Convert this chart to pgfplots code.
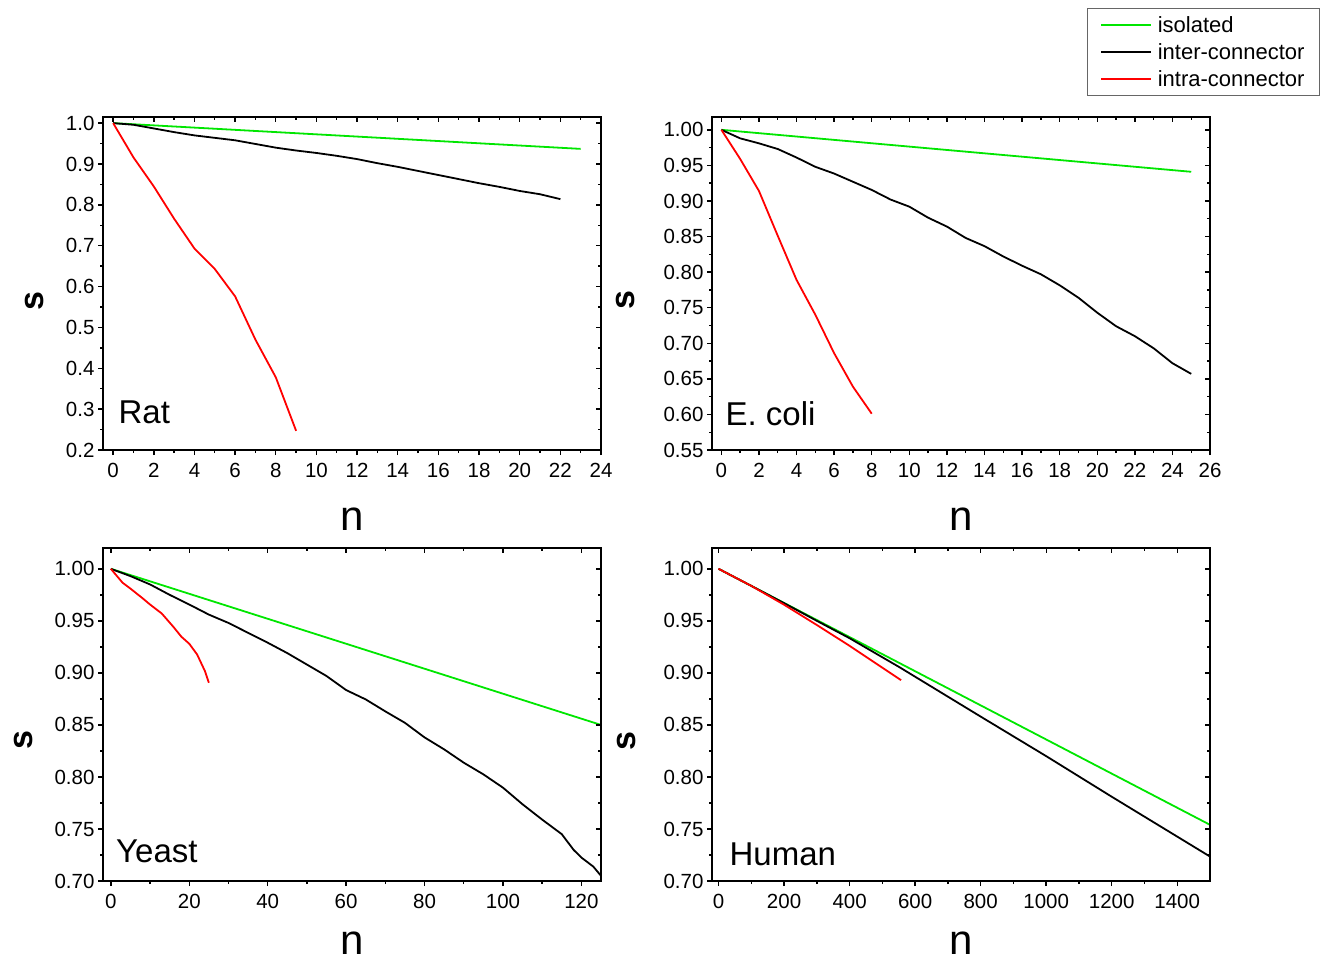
\documentclass[border=0pt]{standalone}
\usepackage{pgfplots}
\pgfplotsset{compat=1.18}
\usepackage{fontspec}
\setmainfont{Liberation Sans}
\definecolor{lgreen}{RGB}{0,230,0}
\definecolor{lred}{RGB}{255,0,0}
\tikzset{panel/.style={font=\fontsize{33}{33}\selectfont, anchor=base west, inner sep=0pt}}
\pgfplotsset{
 base/.style={scale only axis, width=498pt, height=333pt,
   axis line style={line width=1.6pt},
   major tick length=5pt, minor tick length=3pt,
   every tick/.style={line width=1.4pt, black},
   minor x tick num=1, minor y tick num=1,
   ticklabel style={font=\fontsize{20.5}{20.5}\selectfont},
   xticklabel style={yshift=-5pt},
   /pgf/number format/assume math mode=true,
   /pgf/number format/1000 sep={},
   anchor=south west},
 main/.style={base, xtick pos=lower, ytick pos=lower, tick align=outside,
   xlabel={n}, ylabel={s},
   xlabel style={font=\fontsize{42}{42}\selectfont, anchor=center},
   ylabel style={font=\fontsize{34}{34}\selectfont\bfseries, anchor=center},
   every axis plot/.append style={line width=1.8pt, line join=round}},
 over/.style={base, xtick pos=upper, ytick pos=upper, tick align=inside,
   xticklabels={}, yticklabels={}},
 yfmt2/.style={yticklabel style={/pgf/number format/.cd, fixed, fixed zerofill, precision=2}},
 yfmt1/.style={yticklabel style={/pgf/number format/.cd, fixed, fixed zerofill, precision=1}},
 ratax/.style={xmin=-0.5, xmax=24, ymin=0.2, ymax=1.015,
   xtick={0,2,4,6,8,10,12,14,16,18,20,22,24},
   ytick={0.2,0.3,0.4,0.5,0.6,0.7,0.8,0.9,1.0}, yfmt1},
 ecolax/.style={xmin=-0.5, xmax=26, ymin=0.55, ymax=1.018,
   xtick={0,2,4,6,8,10,12,14,16,18,20,22,24,26},
   ytick={0.55,0.60,0.65,0.70,0.75,0.80,0.85,0.90,0.95,1.00}, yfmt2},
 yeastax/.style={xmin=-2, xmax=125, ymin=0.70, ymax=1.02,
   xtick={0,20,40,60,80,100,120},
   ytick={0.70,0.75,0.80,0.85,0.90,0.95,1.00}, yfmt2},
 humanax/.style={xmin=-20, xmax=1500, ymin=0.70, ymax=1.02,
   xtick={0,200,400,600,800,1000,1200,1400},
   ytick={0.70,0.75,0.80,0.85,0.90,0.95,1.00}, yfmt2},
}
\begin{document}
\begin{tikzpicture}
\useasboundingbox (0pt,0pt) rectangle (1321pt,-961pt);
% ---------------- Rat ----------------
\begin{axis}[main, ratax, at={(103pt,-450pt)},
  xlabel style={at={(axis description cs:0.5,-0.207)}},
  ylabel style={at={(axis description cs:-0.138,0.447)}}]
\addplot[lgreen] coordinates {(0,1.0) (5,0.9863) (10,0.9726) (15,0.9589) (20,0.9452) (23,0.937)};
\addplot[black] coordinates {(0,1.0) (1,0.996) (2,0.987) (3,0.978) (4,0.970) (5,0.964) (6,0.958) (7,0.949) (8,0.940) (9,0.933) (10,0.927) (11,0.920) (12,0.912) (13,0.902) (14,0.893) (15,0.883) (16,0.873) (17,0.863) (18,0.853) (19,0.844) (20,0.834) (21,0.826) (22,0.814)};
\addplot[lred] coordinates {(0,1.0) (1,0.916) (2,0.845) (3,0.766) (4,0.693) (5,0.643) (6,0.576) (7,0.470) (8,0.378) (9,0.247)};
\node[panel] at (axis description cs:0.031,0.081) {Rat};
\end{axis}
\begin{axis}[over, ratax, at={(103pt,-450pt)}]
\end{axis}
% ---------------- E. coli ----------------
\begin{axis}[main, ecolax, at={(712pt,-450pt)},
  xlabel style={at={(axis description cs:0.5,-0.207)}},
  ylabel style={at={(axis description cs:-0.173,0.45)}},
  legend style={at={(axis description cs:1.2209,1.3273)}, anchor=north east,
    draw=black!60, line width=1pt, font=\fontsize{22}{22}\selectfont,
    inner xsep=13pt, inner ysep=4pt, row sep=2pt, column sep=4pt,
    nodes={inner sep=2pt, text height=18pt, text depth=3pt}},
  legend cell align=left,
  legend image code/.code={\draw[#1, line width=1.4pt] (0pt,0pt) -- (50pt,0pt);}]
\addplot[lgreen] coordinates {(0,1.0) (5,0.9882) (10,0.9764) (15,0.9646) (20,0.9528) (25,0.941)};
\addplot[black] coordinates {(0,1.0) (1,0.988) (2,0.981) (3,0.973) (4,0.961) (5,0.948) (6,0.9385) (7,0.927) (8,0.9155) (9,0.902) (10,0.892) (11,0.8765) (12,0.864) (13,0.848) (14,0.8365) (15,0.822) (16,0.809) (17,0.797) (18,0.7815) (19,0.764) (20,0.743) (21,0.724) (22,0.710) (23,0.693) (24,0.672) (25,0.657)};
\addplot[lred] coordinates {(0,1.0) (1,0.959) (2,0.914) (3,0.851) (4,0.789) (5,0.740) (6,0.686) (7,0.639) (8,0.601)};
\legend{isolated, inter-connector, intra-connector}
\node[panel] at (axis description cs:0.027,0.075) {E. coli};
\end{axis}
\begin{axis}[over, ecolax, at={(712pt,-450pt)}]
\end{axis}
% ---------------- Yeast ----------------
\begin{axis}[main, yeastax, at={(103pt,-881pt)},
  xlabel style={at={(axis description cs:0.5,-0.186)}},
  ylabel style={at={(axis description cs:-0.16,0.423)}}]
\addplot[lgreen] coordinates {(0,1.0) (25,0.97) (50,0.94) (75,0.91) (100,0.88) (125,0.85)};
\addplot[black] coordinates {(0,1.0) (5,0.993) (10,0.985) (15,0.975) (20,0.9657) (25,0.956) (30,0.948) (35,0.9385) (40,0.929) (45,0.919) (50,0.908) (55,0.897) (60,0.8835) (65,0.8745) (70,0.863) (75,0.852) (80,0.838) (85,0.8265) (90,0.8137) (95,0.8025) (100,0.7897) (105,0.7737) (110,0.759) (115,0.745) (118,0.730) (120,0.7225) (123,0.714) (125,0.705)};
\addplot[lred] coordinates {(0,1.0) (3,0.9866) (5,0.981) (8,0.972) (10,0.9657) (13,0.957) (16,0.944) (18,0.9347) (20,0.928) (22,0.9177) (24,0.9017) (25,0.8905)};
\node[panel] at (axis description cs:0.026,0.057) {Yeast};
\end{axis}
\begin{axis}[over, yeastax, at={(103pt,-881pt)}]
\end{axis}
% ---------------- Human ----------------
\begin{axis}[main, humanax, at={(712pt,-881pt)},
  xlabel style={at={(axis description cs:0.5,-0.186)}},
  ylabel style={at={(axis description cs:-0.172,0.42)}}]
\addplot[lgreen] coordinates {(0,1.0) (300,0.9508) (600,0.9016) (900,0.8524) (1200,0.8032) (1500,0.754)};
\addplot[black] coordinates {(0,1.0) (100,0.9836) (200,0.967) (300,0.950) (400,0.9333) (500,0.915) (552,0.9055) (800,0.858) (1000,0.820) (1200,0.781) (1500,0.7235)};
\addplot[lred] coordinates {(0,1.0) (100,0.9836) (200,0.9655) (300,0.946) (400,0.926) (500,0.905) (557,0.893)};
\node[panel] at (axis description cs:0.035,0.048) {Human};
\end{axis}
\begin{axis}[over, humanax, at={(712pt,-881pt)}]
\end{axis}
\end{tikzpicture}
\end{document}
